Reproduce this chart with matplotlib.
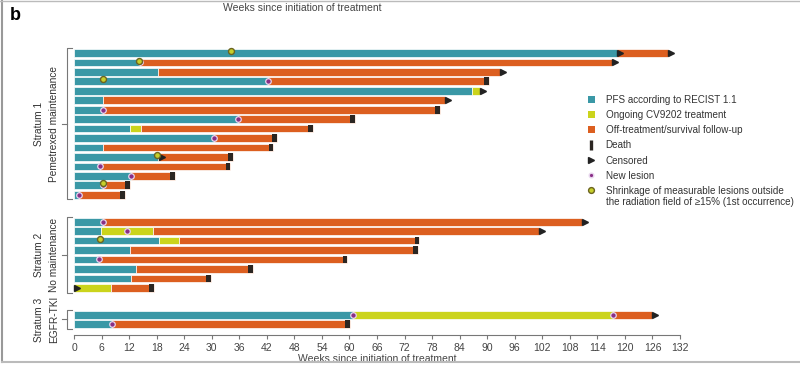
import numpy as np
import matplotlib
matplotlib.use("Agg")
import matplotlib.pyplot as plt
from matplotlib.lines import Line2D
from matplotlib.patches import Patch

plt.rcParams["font.family"] = ["Liberation Sans", "DejaVu Sans"]

# ---- data (weeks) ----
# stratum 1: pemetrexed maintenance
s1_pfs = [118.3, 14.4, 18.3, 42.3, 86.7, 6.3, 6.3, 35.7, 12.2, 30.5, 6.3, 18.3, 5.7, 12.4, 6.3, 1.1]
s1_ongoing_end = [118.3, 14.4, 18.3, 42.3, 88.4, 6.3, 6.3, 35.7, 14.6, 30.5, 6.3, 18.3, 5.7, 12.4, 6.3, 1.1]
s1_total = [129.4, 117.2, 92.8, 90.4, 88.4, 80.8, 79.7, 61.2, 52.0, 44.2, 43.4, 34.6, 34.0, 22.0, 12.2, 11.1]
s1_death = [None, None, None, 90.4, None, None, 79.7, 61.2, 52.0, 44.2, 43.4, 34.6, 34.0, 22.0, 12.2, 11.1]
s1_censored = [[118.3, 129.4], [117.2], [92.8], [], [88.4], [80.8], [], [], [], [], [], [18.5], [], [], [], []]
s1_lesion = [[], [14.4], [], [42.3], [], [], [6.3], [35.7], [], [30.5], [], [], [5.7], [12.4], [6.3], [1.1]]
s1_shrink = [[34.2], [14.2], [], [6.3], [], [], [], [], [], [], [], [18.0], [], [], [6.3], []]

# stratum 2: no maintenance
s2_pfs = [6.3, 5.9, 18.5, 12.2, 5.4, 13.5, 12.4, 0.0]
s2_ongoing_end = [6.3, 17.2, 22.9, 12.2, 5.4, 13.5, 12.4, 8.0]
s2_total = [110.7, 101.3, 75.2, 74.9, 59.5, 39.0, 29.8, 17.4]
s2_death = [None, None, 75.2, 74.9, 59.5, 39.0, 29.8, 17.4]
s2_censored = [[110.7], [101.3], [], [], [], [], [], [0.0]]
s2_lesion = [[6.3], [11.5], [], [], [5.4], [], [], []]
s2_shrink = [[], [], [5.7], [], [], [], [], []]

# stratum 3: EGFR-TKI
s3_pfs = [60.8, 8.2]
s3_ongoing_end = [117.3, 8.2]
s3_total = [125.9, 60.1]
s3_death = [None, 60.1]
s3_censored = [[125.9], []]
s3_lesion = [[60.8, 117.3], [8.2]]
s3_shrink = [[], []]

xticks = list(range(0, 133, 6))

C_PFS = "#3a98a6"
C_ONG = "#cbd41c"
C_OFF = "#dc5f20"
C_DEATH = "#2b2622"
C_LESION = "#8a2f86"
C_SHRINK_FACE = "#c6cf2a"
C_SHRINK_EDGE = "#6b6420"

strata = [
    (s1_pfs, s1_ongoing_end, s1_total, s1_death, s1_censored, s1_lesion, s1_shrink),
    (s2_pfs, s2_ongoing_end, s2_total, s2_death, s2_censored, s2_lesion, s2_shrink),
    (s3_pfs, s3_ongoing_end, s3_total, s3_death, s3_censored, s3_lesion, s3_shrink),
]
group_gap = 2.85

fig = plt.figure(figsize=(8, 3.65), dpi=100)
W, H = 800, 365
y_top_px, row_px, axis_px = 53, 9.45, 335
ylim_bottom = (axis_px - y_top_px) / row_px
ylim_top = -0.6
ax_top_px = y_top_px + ylim_top * row_px
ax = fig.add_axes([74 / W, 1 - axis_px / H, (680 - 74) / W, (axis_px - ax_top_px) / H])

bh = 0.82
start = 0.0
group_rows = []
for pfs, ong, tot, death, cens, les, shr in strata:
    ys = start + np.arange(len(pfs))
    group_rows.append(ys)
    for i, y in enumerate(ys):
        ax.barh(y, pfs[i], left=0, height=bh, color=C_PFS, edgecolor="white", linewidth=0.5)
        if ong[i] > pfs[i]:
            ax.barh(y, ong[i] - pfs[i], left=pfs[i], height=bh, color=C_ONG, edgecolor="white", linewidth=0.5)
        if tot[i] > ong[i]:
            ax.barh(y, tot[i] - ong[i], left=ong[i], height=bh, color=C_OFF, edgecolor="white", linewidth=0.5)
        if death[i] is not None:
            ax.barh(y, 1.0, left=death[i] - 1.0, height=bh, color=C_DEATH, linewidth=0)
        for c in cens[i]:
            ax.plot(c + 0.7, y, marker=">", color="#222222", markersize=5, linestyle="none", clip_on=False, zorder=4)
        for l in les[i]:
            ax.plot(l, y, marker="o", markerfacecolor=C_LESION, markeredgecolor="#e8d6ee",
                    markeredgewidth=0.9, markersize=4.0, linestyle="none", clip_on=False, zorder=5)
        for s in shr[i]:
            ax.plot(s, y - 0.2, marker="o", markerfacecolor=C_SHRINK_FACE, markeredgecolor=C_SHRINK_EDGE,
                    markeredgewidth=1.0, markersize=4.3, linestyle="none", clip_on=False, zorder=6)
    start = ys[-1] + group_gap

ax.set_xlim(0, 132)
ax.set_ylim(ylim_bottom, ylim_top)
ax.set_xticks(xticks)
ax.set_yticks([])
for s in ["left", "right", "top"]:
    ax.spines[s].set_visible(False)
ax.spines["bottom"].set_color("#777777")
ax.spines["bottom"].set_linewidth(0.8)
ax.tick_params(axis="x", labelsize=7.5, labelcolor="#444444", color="#777777", length=3, width=0.8, pad=2.5)
ax.set_xlabel("Weeks since initiation of treatment", fontsize=7.5, color="#444444", labelpad=1)

# brackets and group labels
group_labels = [("Stratum 1", "Pemetrexed maintenance"), ("Stratum 2", "No maintenance"), ("Stratum 3", "EGFR-TKI")]
for ys, (l1, l2) in zip(group_rows, group_labels):
    y0, y1 = ys[0] - 0.5, ys[-1] + 0.5
    xb = -1.6
    ax.plot([-0.4, xb, xb, -0.4], [y0, y0, y1, y1], color="#777777", lw=0.8, clip_on=False)
    ym = (y0 + y1) / 2
    ax.plot([xb, xb - 1.0], [ym, ym], color="#777777", lw=0.8, clip_on=False)
    ax.text(-7.7, ym, l1, rotation=90, ha="center", va="center", fontsize=7.3, color="#333333")
    ax.text(-4.4, ym, l2, rotation=90, ha="center", va="center", fontsize=7.3, color="#333333")

# legend
handles = [
    Patch(facecolor=C_PFS, edgecolor="none"),
    Patch(facecolor=C_ONG, edgecolor="none"),
    Patch(facecolor=C_OFF, edgecolor="none"),
    Line2D([], [], marker="|", color=C_DEATH, markersize=6.5, markeredgewidth=2.4, linestyle="none"),
    Line2D([], [], marker=">", color="#222222", markersize=5, linestyle="none"),
    Line2D([], [], marker="o", markerfacecolor=C_LESION, markeredgecolor="#e8d6ee", markersize=3.3, linestyle="none"),
    Line2D([], [], marker="o", markerfacecolor=C_SHRINK_FACE, markeredgecolor=C_SHRINK_EDGE,
           markeredgewidth=1.0, markersize=4.2, linestyle="none"),
]
labels = [
    "PFS according to RECIST 1.1",
    "Ongoing CV9202 treatment",
    "Off-treatment/survival follow-up",
    "Death",
    "Censored",
    "New lesion",
    "Shrinkage of measurable lesions outside",
]
leg = fig.legend(handles, labels, loc="upper left", bbox_to_anchor=(588 / W, 1 - 95 / H), frameon=False,
                 fontsize=7.1, handlelength=0.7, handleheight=0.7, handletextpad=1.1, labelspacing=0.52,
                 borderpad=0, borderaxespad=0)
for t in leg.get_texts():
    t.set_color("#333333")

# second line of the last legend label, aligned under the first
fig.canvas.draw()
last = leg.get_texts()[-1].get_window_extent()
fig.text(last.x0 / W, (last.y0 - 1) / H, "the radiation field of \u226515% (1st occurrence)",
         ha="left", va="top", fontsize=7.1, color="#333333")

fig.text(302 / W, 1 - 8 / H, "Weeks since initiation of treatment", ha="center", va="center",
         fontsize=7.5, color="#444444")
fig.text(10 / W, 1 - 16 / H, "b", ha="left", va="center", fontsize=13, fontweight="bold")

# image frame lines
fig.add_artist(Line2D([0.003, 0.003], [0.008, 1], transform=fig.transFigure, color="#999999", lw=1.5))
fig.add_artist(Line2D([0.003, 1], [0.008, 0.008], transform=fig.transFigure, color="#bbbbbb", lw=1.5))
fig.add_artist(Line2D([0, 1], [0.998, 0.998], transform=fig.transFigure, color="#bbbbbb", lw=1.0))

fig.savefig("out.png", dpi=100)
